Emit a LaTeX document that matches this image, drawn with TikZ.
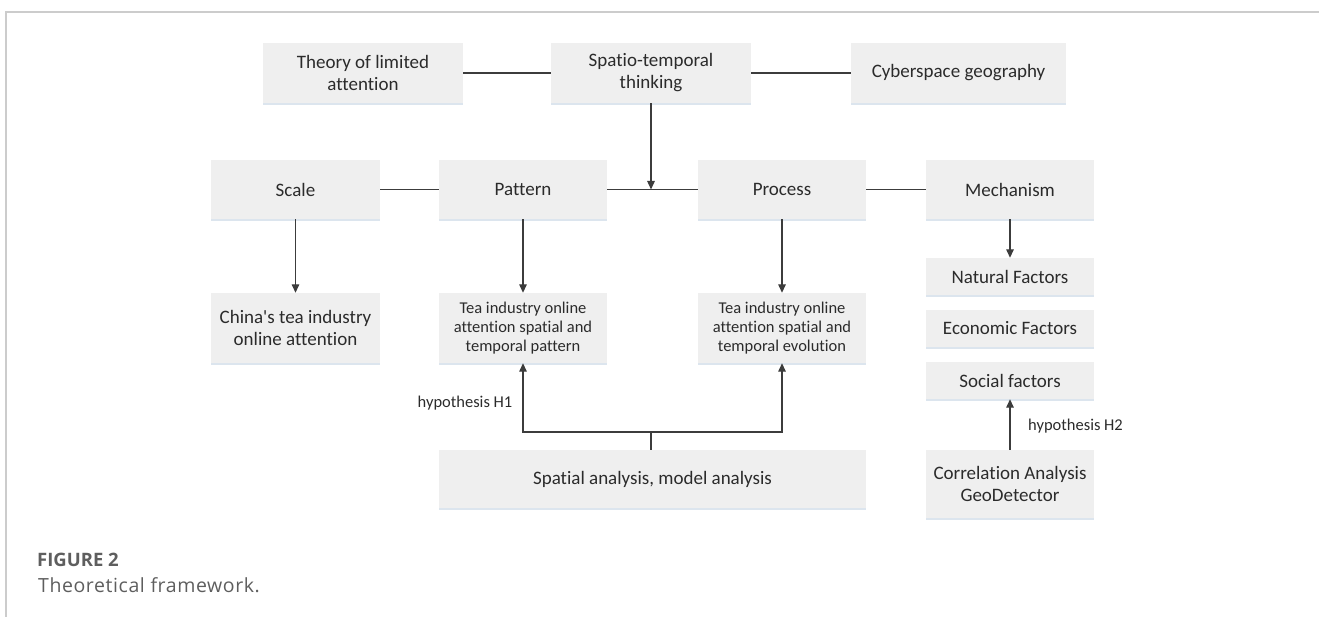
\documentclass[tikz,border=0pt]{standalone}
\usepackage{fontspec}
\setmainfont{Carlito}[Ligatures=NoCommon]
\newfontfamily\boxfont{Carlito}[Ligatures=NoCommon]
\newfontfamily\capfont{Open Sans}
\newfontfamily\capfontsp{Open Sans}[LetterSpace=3]
\usetikzlibrary{arrows.meta,shadows}
\definecolor{boxfill}{HTML}{EFEFEF}
\definecolor{boxshadow}{HTML}{DCE5EE}
\definecolor{txt}{HTML}{2B2B2B}
\definecolor{ln}{HTML}{3C3C3C}
\definecolor{frame}{HTML}{CCCCCC}
\definecolor{capc}{HTML}{5E5E5E}
\tikzset{
  bx/.style={fill=boxfill, draw=none, text=txt, align=center, inner sep=2pt,
    general shadow={shadow yshift=-2pt, fill=boxshadow}},
  big/.style={bx, font=\boxfont\fontsize{19}{22}\selectfont},
  small/.style={bx, font=\boxfont\fontsize{16.5}{19}\selectfont},
  conn/.style={draw=ln, line width=1.4pt},
  arr/.style={conn, -{Triangle[length=8.5pt,width=7.5pt]}},
  lab/.style={text=txt, font=\boxfont\fontsize{16.5}{19}\selectfont, inner sep=0pt},
}
\begin{document}
\begin{tikzpicture}[x=1pt,y=-1pt]
\useasboundingbox (0,0) rectangle (1319,617);
\draw[frame, line width=1.2pt] (6,617) -- (6,12) -- (1319,12);
% row 1
\node[big, minimum width=200pt, minimum height=60pt] (theory) at (363,73) {Theory of limited\\attention};
\node[big, minimum width=200pt, minimum height=60pt] (spatio) at (651,73) {Spatio-temporal\\thinking};
\node[big, minimum width=215pt, minimum height=60pt] (cyber) at (958.5,73) {Cyberspace geography};
% row 2
\node[big, minimum width=169pt, minimum height=59pt] (scale) at (295.5,189.5) {Scale};
\node[big, minimum width=168pt, minimum height=59pt] (pattern) at (523,189.5) {Pattern};
\node[big, minimum width=168pt, minimum height=59pt] (process) at (782,189.5) {Process};
\node[big, minimum width=168pt, minimum height=59pt] (mech) at (1010,189.5) {Mechanism};
% row 3
\node[big, minimum width=169pt, minimum height=70pt] (china) at (295.5,328) {China's tea industry\\online attention};
\node[small, minimum width=168pt, minimum height=70pt] (patres) at (523,328) {Tea industry online\\attention spatial and\\temporal pattern};
\node[small, minimum width=168pt, minimum height=70pt] (procres) at (782,328) {Tea industry online\\attention spatial and\\temporal evolution};
\node[big, minimum width=168pt, minimum height=37pt] (natural) at (1010,276.5) {Natural Factors};
\node[big, minimum width=168pt, minimum height=37pt] (econ) at (1010,328.5) {Economic Factors};
\node[big, minimum width=168pt, minimum height=37pt] (social) at (1010,380.5) {Social factors};
\node[big, minimum width=427pt, minimum height=58pt] (spana) at (652.5,479) {Spatial analysis, model analysis};
\node[big, minimum width=168pt, minimum height=68pt] (corr) at (1010,484) {Correlation Analysis\\GeoDetector};
% connectors row 1
\draw[conn] (theory) -- (spatio);
\draw[conn] (spatio) -- (cyber);
% row 2
\draw[conn] (scale) -- (pattern);
\draw[conn] (pattern) -- (process);
\draw[conn] (process) -- (mech);
\coordinate (jn) at (651,189.5);
\draw[arr] (spatio.south) -- (jn);
% down arrows
\draw[arr] (scale.south) -- (china.north);
\draw[arr] (pattern.south) -- (patres.north);
\draw[arr] (process.south) -- (procres.north);
\draw[arr] (mech.south) -- (natural.north);
% bottom
\coordinate (hb) at (651,432);
\draw[conn] (spana.north -| hb) -- (hb);
\draw[arr] (hb) -| (patres.south);
\draw[arr] (hb) -| (procres.south);
\draw[arr] (corr.north) -- (social.south);
\node[lab] (h1) at (465,403) {hypothesis H1};
\node[lab, anchor=west] (h2) at (1028,426) {hypothesis H2};
% caption
\node[anchor=west, inner sep=0pt, text=capc, font=\capfont\fontsize{18.5}{22}\selectfont\bfseries] (figlab) at (37,560) {FIGURE 2};
\node[anchor=west, inner sep=0pt, text=capc, font=\capfontsp\fontsize{19.5}{23}\selectfont] (figcap) at (38,585) {Theoretical framework.};
\end{tikzpicture}
\end{document}
